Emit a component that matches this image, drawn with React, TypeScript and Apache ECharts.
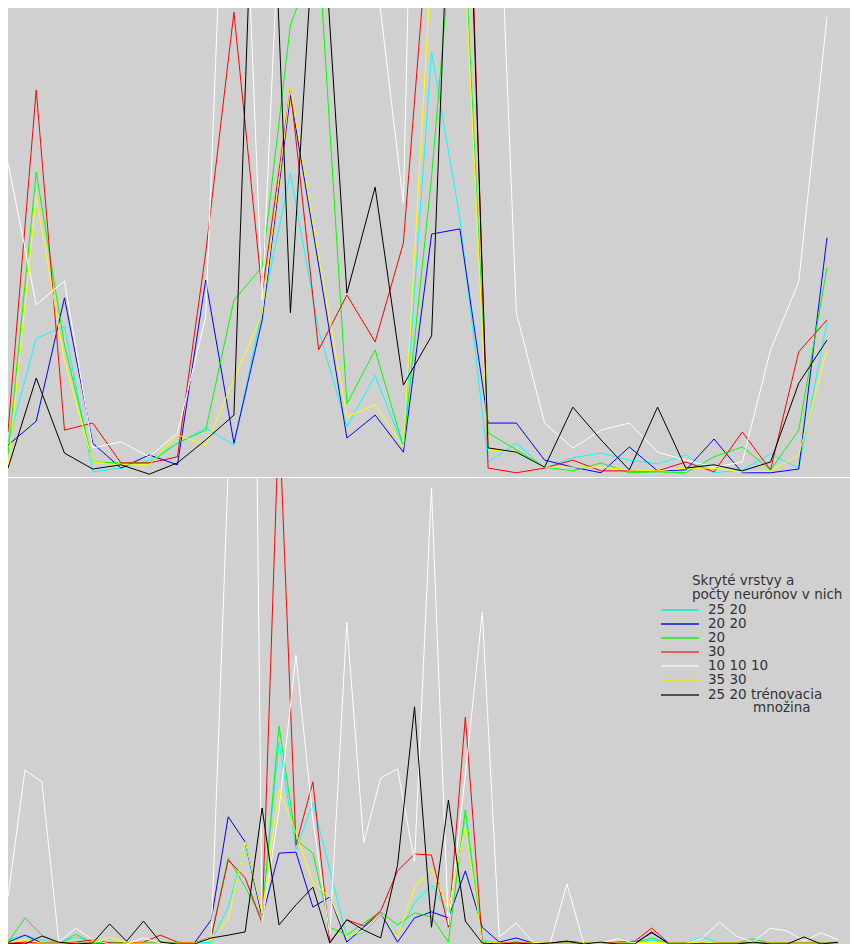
import React, { useEffect, useRef } from "react";
import * as echarts from "echarts";

// ---- categories ----
const topCategories = Array.from({ length: 30 }, (_, i) => String(i + 1));
const bottomCategories = Array.from({ length: 50 }, (_, i) => String(i + 1));

// ---- series names / colours (legend order) ----
const seriesNames = ["25 20", "20 20", "20", "30", "10 10 10", "35 30", "25 20 trénovacia množina"];
const seriesColors = ["#00ffff", "#0000ff", "#00ff00", "#ff0000", "#ffffff", "#ffff00", "#000000"];
const legendLineColors = ["#40e0e0", "#4040e0", "#50e050", "#e86060", "#e8e8e8", "#e0e040", "#505050"];

// ---- top panel values ----
const topCyan = [7.2, 29.6, 32.0, 1.1, 1.9, 3.6, 7.2, 10.4, 6.8, 35.6, 64.8, 31.3, 10.7, 21.7, 6.4, 90.6, 55.2, 3.2, 7.2, 1.9, 4.1, 5.1, 3.6, 2.8, 4.7, 0.9, 1.5, 4.9, 1.9, 33.0];
const topBlue = [6.8, 11.9, 38.2, 7.2, 1.9, 4.7, 2.6, 42.0, 7.2, 33.5, 81.4, 45.2, 8.3, 13.2, 5.3, 51.8, 52.9, 11.5, 11.5, 3.6, 2.1, 0.9, 6.4, 1.3, 1.5, 8.1, 0.9, 0.9, 1.7, 51.0];
const topGreen = [4.7, 65.0, 28.1, 3.2, 3.0, 3.0, 7.2, 10.0, 37.7, 44.8, 96.4, 112.4, 15.6, 27.1, 6.4, 64.0, 135.8, 9.4, 5.8, 2.1, 1.3, 3.0, 0.9, 1.1, 0.9, 4.3, 6.4, 1.5, 10.0, 44.6];
const topRed = [9.6, 82.5, 10.0, 11.5, 3.0, 3.0, 4.3, 47.8, 99.1, 39.2, 82.9, 27.1, 38.8, 28.8, 49.9, 126.4, 198.1, 1.9, 0.9, 1.9, 3.6, 1.3, 1.3, 1.3, 3.2, 1.1, 9.6, 1.5, 26.7, 33.5];
const topWhite = [67.0, 36.7, 41.8, 6.2, 7.5, 4.3, 9.4, 34.1, 188.7, 37.7, 172.1, 200, 180, 109.2, 58.4, 320, 300, 187, 35.0, 11.5, 6.2, 10.0, 11.5, 5.3, 3.6, 2.1, 3.2, 27.1, 41.6, 98.1];
const topYellow = [2.1, 59.7, 24.9, 3.2, 2.6, 2.6, 9.0, 6.8, 20.7, 35.0, 82.9, 47.1, 12.8, 15.4, 6.4, 110.2, 131.3, 5.8, 5.3, 2.1, 2.1, 2.1, 1.5, 1.3, 1.9, 1.9, 1.1, 1.3, 4.7, 27.1];
const topBlack = [1.9, 21.1, 5.1, 1.7, 2.6, 0.6, 3.0, 7.9, 13.2, 185.9, 35.0, 133.7, 39.2, 61.8, 19.6, 30.1, 187.0, 6.2, 5.3, 2.1, 14.9, 7.9, 1.5, 14.9, 1.9, 2.6, 1.3, 3.2, 20.0, 29.2];

// ---- bottom panel values ----
const bottomCyan = [0.9, 1.9, 0.9, 0.2, 1.5, 0.4, 0.2, 0.2, 0.2, 0.2, 0.2, 0.2, 0.4, 7.9, 21.2, 6.9, 43.3, 20.2, 30.3, 15.9, 1.5, 2.4, 6.2, 1.9, 8.8, 12.7, 6.7, 26.2, 0.9, 0.2, 0.2, 0.2, 0.2, 0.2, 0.2, 0.2, 0.2, 0.2, 0.9, 0.2, 0.2, 1.5, 0.2, 0.2, 0.2, 0.2, 0.2, 0.2, 0.2, 0.2];
const bottomBlue = [0.4, 1.9, 0.2, 0.2, 0.2, 0.2, 0.2, 0.2, 0.2, 0.4, 0.2, 0.2, 5.2, 27.3, 21.9, 5.8, 19.5, 19.7, 7.9, 10.1, 0.4, 3.6, 6.7, 0.4, 5.6, 6.9, 5.6, 15.7, 3.6, 0.4, 1.3, 0.2, 0.2, 0.6, 0.2, 0.2, 0.2, 0.2, 2.4, 0.2, 0.2, 0.2, 0.2, 0.2, 0.2, 0.2, 0.2, 0.2, 0.2, 0.2];
const bottomGreen = [0.4, 5.6, 1.9, 0, 2.1, 0.2, 0.4, 0.2, 0.2, 0.2, 0.2, 0.2, 1.5, 18.5, 12.2, 5.6, 46.8, 22.3, 19.5, 3.6, 1.9, 4.5, 6.9, 4.1, 6.7, 5.8, 0.4, 28.8, 0.4, 0.2, 0.2, 0.2, 0.2, 0.2, 0.2, 0.2, 0.2, 0.2, 1.3, 0.2, 0.2, 0.2, 0.2, 0.2, 1.1, 0.2, 0.2, 0.2, 0.2, 0.2];
const bottomRed = [0.2, 0.4, 0.2, 0.2, 0.4, 0.9, 0.2, 0.2, 0.4, 1.9, 0.4, 0.2, 1.5, 18.0, 14.2, 4.5, 114, 21.2, 34.8, 0.4, 5.2, 3.9, 7.1, 15.7, 19.3, 19.1, 3.6, 48.7, 0.4, 0.2, 0.4, 0.2, 0.2, 0.2, 0.2, 0.2, 0.4, 0.6, 3.4, 0.2, 0.2, 0.2, 0.2, 0.2, 0.2, 0.2, 0.2, 0.2, 0.2, 0.2];
const bottomWhite = [10.1, 37.3, 34.8, 0.4, 3.4, 0.9, 0, 0, 1.3, 0.2, 0, 0, 1.5, 101.7, 331, 4.5, 28.8, 62.0, 26.6, 1.9, 69.1, 21.7, 35.6, 37.6, 17.6, 97.9, 4.1, 36.3, 71.2, 1.5, 4.5, 0.4, 0, 12.9, 0, 0.2, 1.1, 0.2, 0.2, 0, 0, 1.3, 4.7, 1.7, 0.4, 3.4, 2.8, 0.6, 2.4, 0.9];
const bottomYellow = [0.2, 0.9, 0.2, 0.2, 0.2, 0.2, 1.5, 0.2, 0.2, 0.2, 0.2, 0.2, 0.9, 5.2, 21.9, 6.7, 33.0, 23.8, 13.1, 10.1, 1.5, 3.0, 6.7, 1.5, 12.2, 16.3, 7.3, 25.5, 0.4, 0.2, 0.2, 0.2, 0.2, 0.2, 0.2, 0.2, 0.2, 0.2, 0.4, 0.2, 0.2, 0.4, 0.2, 0.2, 0.2, 0.2, 0.2, 0.2, 0.2, 0.2];
const bottomBlack = [0.2, 0, 1.7, 0.4, 0, 0.2, 4.3, 0.6, 4.9, 0.4, 0, 0, 1.3, 1.9, 2.6, 29.2, 4.1, 8.4, 12.2, 0.2, 5.2, 3.0, 1.3, 17.0, 50.9, 3.6, 30.9, 4.9, 0.2, 0, 0.2, 0, 0.2, 0.6, 0, 0.4, 0, 0, 2.6, 0, 0, 0, 0, 0, 0.4, 0, 0, 1.5, 0, 0.4];

const topData = [topCyan, topBlue, topGreen, topRed, topWhite, topYellow, topBlack];
const bottomData = [bottomCyan, bottomBlue, bottomGreen, bottomRed, bottomWhite, bottomYellow, bottomBlack];

// legend texts
const legendTitle = ["Skryté vrstvy a", "počty neurónov v nich"];
const legendLabels = ["25 20", "20 20", "20", "30", "10 10 10", "35 30", "25 20 trénovacia"];
const legendContinuation = "množina";

export default function App() {
  const ref = useRef<HTMLDivElement>(null);

  useEffect(() => {
    if (!ref.current) return;
    const chart = echarts.init(ref.current, undefined, { renderer: "svg" });

    const font = { fontSize: 13.5, lineHeight: 13, fontFamily: "DejaVu Sans", fill: "#333333" };
    const legendX = 653;
    const legendTextX = 700;
    const firstItemY = 601;
    const step = 14;

    const graphic: any[] = [
      {
        type: "line",
        z: 100,
        shape: { x1: 0, y1: 469.5, x2: 842, y2: 469.5 },
        style: { stroke: "#ffffff", lineWidth: 1 },
      },
    ];
    legendTitle.forEach((t, i) => {
      graphic.push({
        type: "text",
        z: 100,
        style: { text: t, x: 684, y: 572 + i * step, verticalAlign: "middle", align: "left", ...font },
      });
    });
    legendLabels.forEach((t, i) => {
      const y = firstItemY + i * step + (i === 6 ? 1 : 0);
      graphic.push({
        type: "line",
        z: 100,
        shape: { x1: legendX, y1: y + 1, x2: legendX + 38, y2: y + 1 },
        style: { stroke: legendLineColors[i], lineWidth: 2 },
      });
      graphic.push({
        type: "text",
        z: 100,
        style: { text: t, x: legendTextX, y, verticalAlign: "middle", align: "left", ...font },
      });
    });
    graphic.push({
      type: "text",
      z: 100,
      style: { text: legendContinuation, x: 745, y: 699, verticalAlign: "middle", align: "left", ...font },
    });

    const series: any[] = [];
    topData.forEach((d, i) => {
      series.push({
        name: seriesNames[i],
        type: "line",
        xAxisIndex: 0,
        yAxisIndex: 0,
        data: d,
        showSymbol: false,
        symbol: "none",
        lineStyle: { color: seriesColors[i], width: 1 },
        itemStyle: { color: seriesColors[i] },
        clip: true,
      });
    });
    bottomData.forEach((d, i) => {
      series.push({
        name: seriesNames[i],
        type: "line",
        xAxisIndex: 1,
        yAxisIndex: 1,
        data: d,
        showSymbol: false,
        symbol: "none",
        lineStyle: { color: seriesColors[i], width: 1 },
        itemStyle: { color: seriesColors[i] },
        clip: true,
      });
    });

    chart.setOption({
      animation: false,
      backgroundColor: "#d0d0d0",
      grid: [
        { left: 0, top: 0, width: 819, height: 469 },
        { left: 0, top: 470, width: 830, height: 466 },
      ],
      xAxis: [
        { type: "category", gridIndex: 0, data: topCategories, boundaryGap: false, show: false },
        { type: "category", gridIndex: 1, data: bottomCategories, boundaryGap: false, show: false },
      ],
      yAxis: [
        { type: "value", gridIndex: 0, min: 0, max: 100, show: false, splitLine: { show: false } },
        { type: "value", gridIndex: 1, min: 0, max: 100, show: false, splitLine: { show: false } },
      ],
      graphic,
      series,
    });

    return () => chart.dispose();
  }, []);

  return (
    <div
      ref={ref}
      style={{ position: "absolute", left: 8, top: 8, width: 842, height: 936 }}
    />
  );
}
